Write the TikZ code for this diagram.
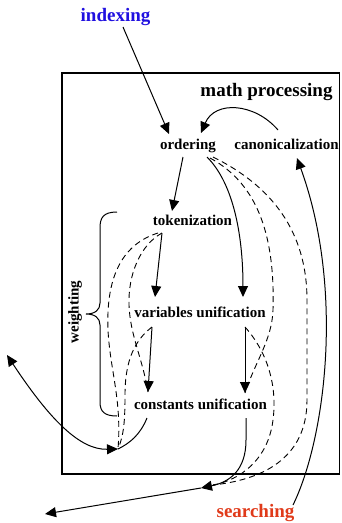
\documentclass[tikz,border=0pt]{standalone}
\usepackage{fontspec}
\setmainfont{Liberation Serif}
\usetikzlibrary{arrows.meta}
\definecolor{idxblue}{HTML}{2010E0}
\definecolor{srchred}{HTML}{E03A1A}
\begin{document}
\begin{tikzpicture}[x=1pt,y=-1pt,
  lbl/.style={font=\fontsize{15}{15}\selectfont\bfseries, inner sep=0pt, anchor=base},
  ttl/.style={font=\fontsize{19}{19}\selectfont\bfseries, inner sep=0pt, anchor=base},
  conn/.style={line width=1pt},
  dconn/.style={line width=0.9pt, dash pattern=on 6pt off 4pt},
  tip/.style={-{Triangle[length=11pt,width=10pt]}},
  boxstyle/.style={draw, line width=1.2pt, minimum width=277.5pt, minimum height=401pt, inner sep=0pt}
]
\useasboundingbox (0,0) rectangle (341,523);

% frame
\node[boxstyle] (mpbox) at (200.75,273.5) {};

% labels
\node[ttl, text=idxblue] (indexing) at (115.5,21) {indexing};
\node[ttl] (mathproc) at (266.5,96) {math processing};
\node[lbl] (ordering) at (188,149) {ordering};
\node[lbl] (canon) at (286.5,149) {canonicalization};
\node[lbl] (token) at (192.5,225) {tokenization};
\node[lbl] (varuni) at (200,317) {variables unification};
\node[lbl] (conuni) at (200.5,409.5) {constants unification};
\node[ttl, text=srchred] (searching) at (255.5,517.5) {searching};
\node[font=\fontsize{15}{15}\selectfont\bfseries, inner sep=0pt, rotate=90] (weighting) at (75,312) {weighting};

% attachment points
\coordinate (idxO) at (123,27);
\coordinate (ordN) at (169,134);
\coordinate (canN) at (278,130);
\coordinate (ordNE) at (201,133);
\coordinate (ordS1) at (183,157);
\coordinate (tokN) at (172,211);
\coordinate (ordS2) at (207,157);
\coordinate (ordS3) at (210,158);
\coordinate (ordS4) at (213,157);
\coordinate (varNR) at (243,297);
\coordinate (tokS1) at (158,233);
\coordinate (tokS2) at (162,233);
\coordinate (varNL) at (155,297);
\coordinate (varSL) at (152,327);
\coordinate (conNL) at (148,392);
\coordinate (varSR) at (245,327);
\coordinate (conNR) at (245,393);
\coordinate (conSL) at (147,418);
\coordinate (conSR) at (246,418);
\coordinate (J1) at (118,449);
\coordinate (J2) at (201,488);
\coordinate (J2b) at (213,485);
\coordinate (outL) at (7,355);
\coordinate (outB) at (45,514);
\coordinate (srchN) at (293,505);
\coordinate (canS) at (297,158);

% brace
\draw[conn] (117,212) .. controls (103,212) and (100,218) .. (100,228) -- (100,303)
  .. controls (100,310) and (95,314) .. (86,314)
  .. controls (95,314) and (100,318) .. (100,325) -- (100,402)
  .. controls (100,412) and (105,416) .. (117,416);

% top connectors
\draw[conn,tip] (idxO) -- (ordN);
\draw[conn,tip] (canN) .. controls (255,103) and (215,100) .. (ordNE);
\draw[conn,tip] (ordS1) -- (tokN);
\draw[conn,tip] (ordS2) .. controls (235,185) and (243,240) .. (varNR);
\draw[dconn] (ordS3) .. controls (260,185) and (275,240) .. (273,310)
  .. controls (272,340) and (255,362) .. (conNR);
\draw[dconn] (ordS4) .. controls (280,190) and (307,240) .. (307,300) -- (307,400)
  .. controls (307,460) and (260,480) .. (J2b);

% right column
\draw[conn,tip] (varSR) -- (conNR);
\draw[dconn] (varSR) .. controls (270,355) and (277,390) .. (273,420)
  .. controls (268,460) and (240,480) .. (J2b);
\draw[conn,tip] (conSR) -- (246,440) .. controls (246,470) and (230,482) .. (J2);
\draw[conn,tip] (J2) -- (outB);
\draw[conn,tip] (srchN) .. controls (325,440) and (345,290) .. (canS);

% left column
\draw[conn,tip] (tokS2) -- (varNL);
\draw[dconn] (tokS1) .. controls (120,245) and (106,280) .. (108,330)
  .. controls (110,370) and (122,400) .. (J1);
\draw[dconn] (tokS2) .. controls (140,245) and (128,275) .. (129,305)
  .. controls (130,335) and (143,360) .. (conNL);
\draw[dconn] (varSL) .. controls (135,340) and (125,360) .. (125,395)
  .. controls (125,420) and (124,435) .. (J1);
\draw[conn,tip] (varSL) -- (conNL);
\draw[conn] (conSL) .. controls (140,435) and (130,443) .. (J1);
\draw[conn,{Triangle[length=11pt,width=10pt]}-{Triangle[length=11pt,width=10pt]}] (J1) .. controls (80,450) and (50,420) .. (outL);
\end{tikzpicture}
\end{document}
